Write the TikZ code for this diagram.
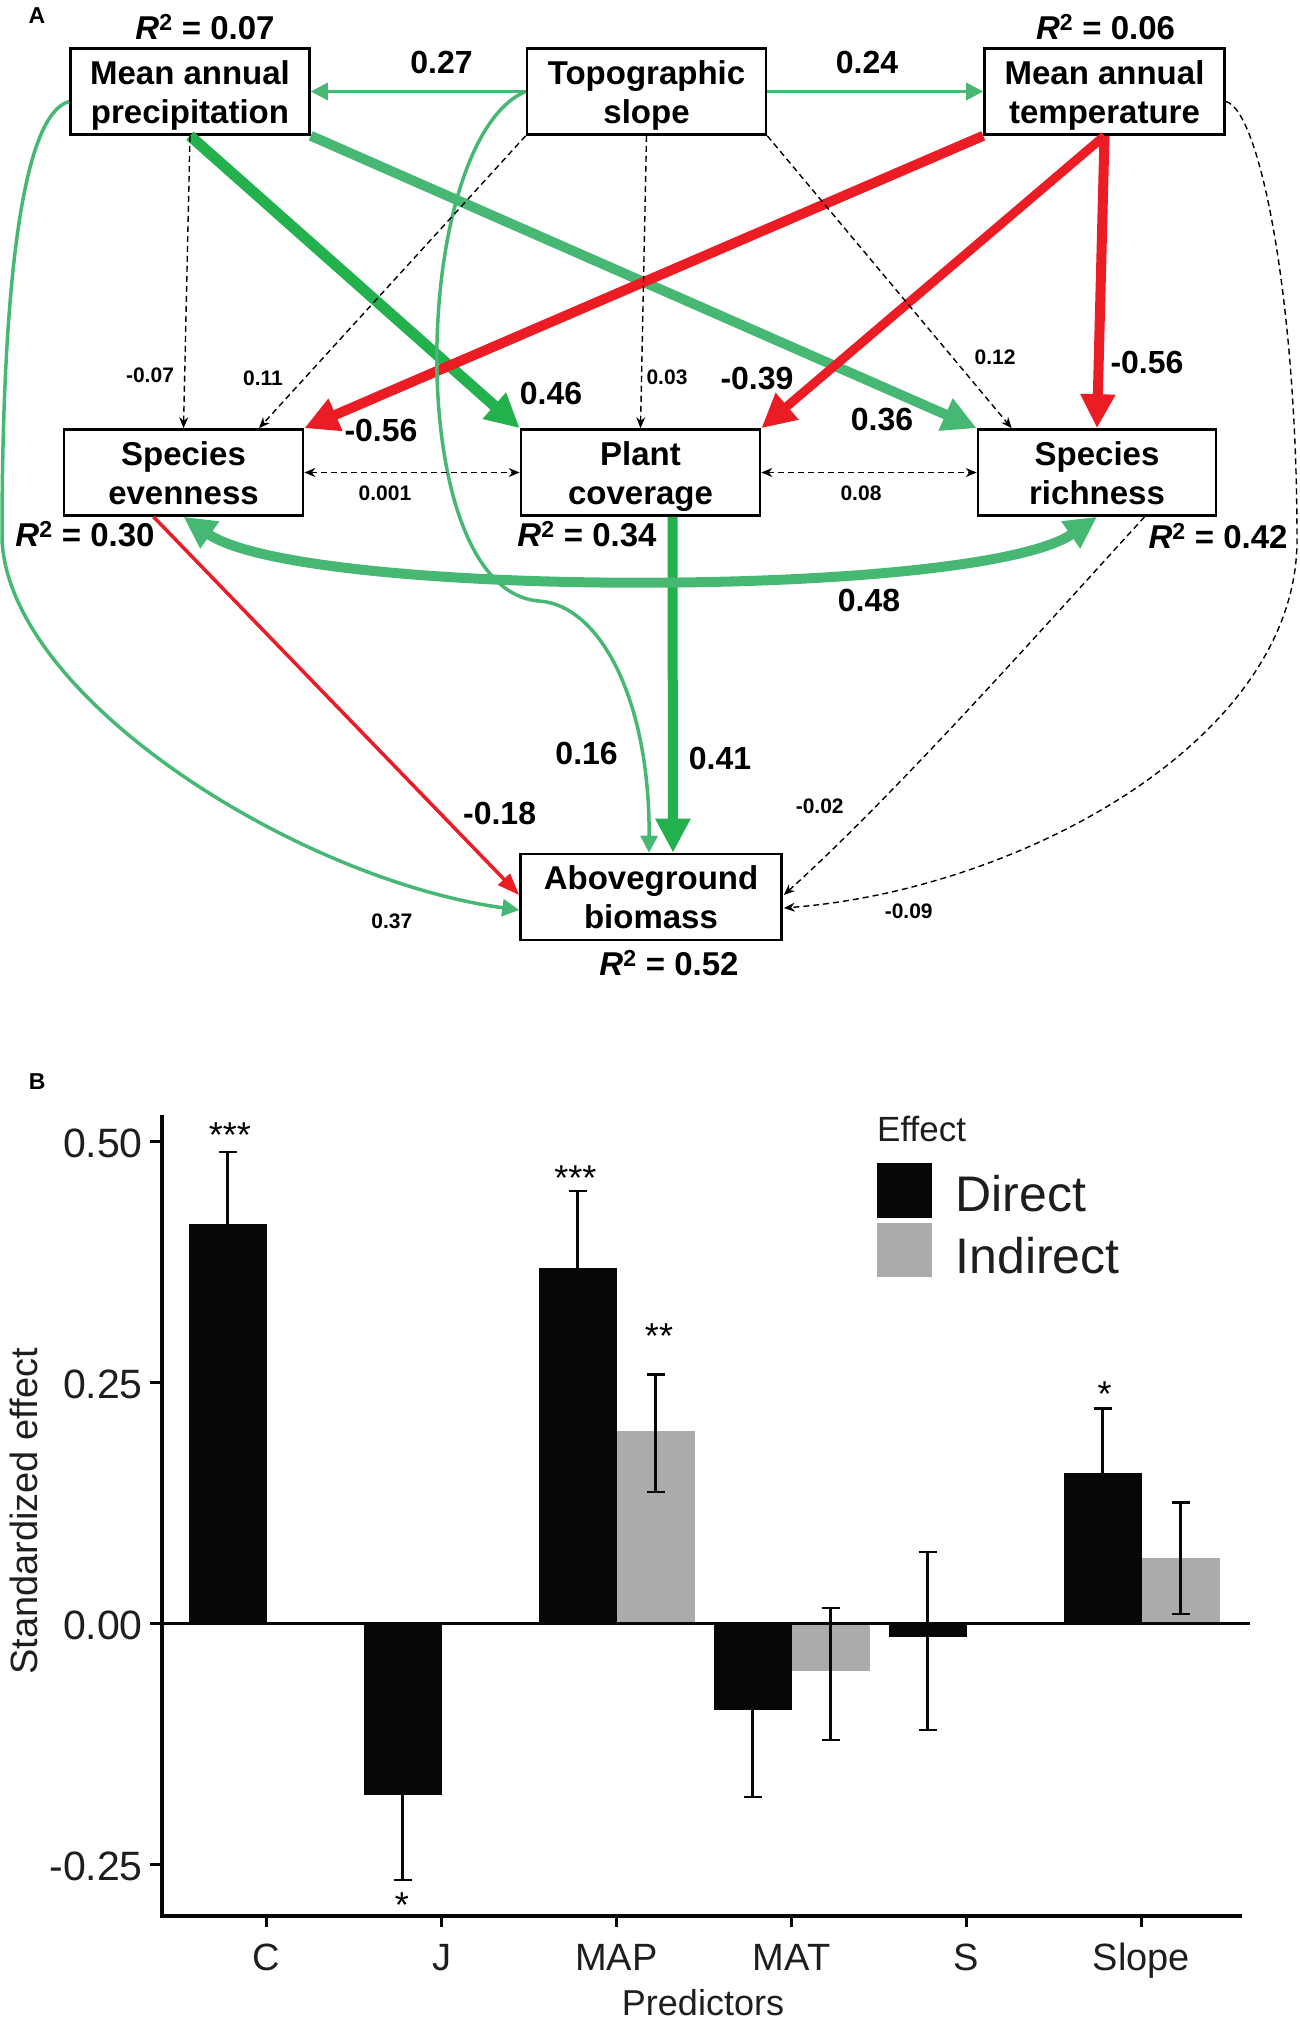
\documentclass[tikz,border=0pt]{standalone}
\usepackage{fontspec}
\setmainfont{Liberation Sans}
\usetikzlibrary{arrows.meta,calc}
\definecolor{dgreen}{RGB}{34,177,76}
\definecolor{lgreen}{RGB}{70,184,116}
\definecolor{myred}{RGB}{236,28,36}
\definecolor{bargray}{RGB}{171,171,171}
\definecolor{barblack}{RGB}{5,7,8}
\definecolor{txtgray}{RGB}{30,30,30}
\newcommand\boxstrut{\rule[-7pt]{0pt}{38pt}}
\newcommand\errbar[3]{\draw[errst] (#1,#2) -- (#1,#3) (#1-9,#2) -- (#1+9,#2) (#1-9,#3) -- (#1+9,#3);}
\begin{document}
\begin{tikzpicture}[x=1pt,y=-1pt,
  box/.style={draw, line width=2.6pt, minimum width=239pt, minimum height=86pt, inner sep=0pt, align=center, font=\fontsize{33}{39}\selectfont\bfseries},
  big/.style={font=\fontsize{32}{38}\selectfont\bfseries, inner sep=0pt},
  small/.style={font=\fontsize{21}{25}\selectfont\bfseries, inner sep=0pt},
  rsq/.style={font=\fontsize{33}{38}\selectfont\bfseries, inner sep=0pt},
  panel/.style={font=\fontsize{23}{26}\selectfont\bfseries, inner sep=0pt},
  dashline/.style={draw=black, line width=1.4pt, dash pattern=on 6pt off 4pt, -{Stealth[length=11pt,width=9pt]}},
  dashboth/.style={draw=black, line width=1.4pt, dash pattern=on 6pt off 4pt, {Stealth[length=11pt,width=9pt]}-{Stealth[length=11pt,width=9pt]}},
  thinarrow/.style={line width=3.5pt, -{Triangle[length=17pt,width=17pt]}},
  thickarrow/.style={-{Triangle[length=34pt,width=33pt]}},
  errst/.style={line width=2.4pt, draw=barblack},
  tickfont/.style={font=\fontsize{41}{46}\selectfont, text=txtgray, inner sep=0pt},
  xlab/.style={font=\fontsize{38}{44}\selectfont, text=txtgray, inner sep=0pt},
  star/.style={font=\fontsize{36}{40}\selectfont, inner sep=0pt},
]
\useasboundingbox (0,0) rectangle (1299,2019);

% ---------------- Panel A ----------------
\node[panel] (pA) at (37,16) {A};

\node[box] (MAP) at (190,91.5) {\boxstrut Mean annual\\\boxstrut precipitation};
\node[box] (TOP) at (646.5,91.5) {\boxstrut Topographic\\\boxstrut slope};
\node[box, minimum width=240pt] (MAT) at (1104.5,91.5) {\boxstrut Mean annual\\\boxstrut temperature};
\node[box] (SE) at (183.5,472.5) {\boxstrut Species\\\boxstrut evenness};
\node[box] (PC) at (640.5,472.5) {\boxstrut Plant\\\boxstrut coverage};
\node[box, minimum width=238pt] (SR) at (1097,472.5) {\boxstrut Species\\\boxstrut richness};
\node[box, minimum width=261pt] (AGB) at (651,897) {\boxstrut Aboveground\\\boxstrut biomass};

% thick paths
\draw[dgreen, line width=11pt, thickarrow] (MAP.south) -- (PC.north west);
\draw[lgreen, line width=10pt, thickarrow] (MAP.south east) -- (SR.north west);
\draw[myred, line width=10pt, thickarrow] (MAT.south west) -- (SE.north east);
\draw[myred, line width=9pt, thickarrow] (MAT.south) -- (PC.north east);
\draw[myred, line width=10pt, thickarrow] (MAT.south) -- (SR.north);
\draw[dgreen, line width=10pt, thickarrow] ($(PC.south)+(32,0)$) -- ($(AGB.north)+(22,0)$);
\draw[lgreen, line width=10pt, {Triangle[length=32pt,width=31pt]}-{Triangle[length=32pt,width=31pt]}]
  (SE.south) .. controls (302,599) and (978,599) .. (SR.south);

% thin paths
\draw[lgreen, thinarrow] (TOP.west) -- (MAP.east);
\draw[lgreen, thinarrow] (TOP.east) -- (MAT.west);
\draw[lgreen, thinarrow] (TOP.west) .. controls (410,140) and (400,590) .. (539,601)
  .. controls (600,605) and (650,700) .. ($(AGB.north)+(-2,0)$);
\draw[lgreen, thinarrow] ($(MAP.west)+(0,10)$) .. controls (20,115) and (2,300) .. (2,540)
  .. controls (10,700) and (300,880) .. ($(AGB.west)+(0,13)$);
\draw[myred, line width=3.5pt, -{Triangle[length=22pt,width=16pt]}] ($(SE.south)+(-30,0)$) -- ($(AGB.west)+(0,-2)$);

% dashed paths
\draw[dashline] (MAP.south) -- (SE.north);
\draw[dashline] (TOP.south west) -- ($(SE.north)+(75.5,0)$);
\draw[dashline] (TOP.south) -- (PC.north);
\draw[dashline] (TOP.south east) -- ($(SR.north west)+(35,0)$);
\draw[dashboth] (SE.east) -- (PC.west);
\draw[dashboth] (PC.east) -- (SR.west);
\draw[dashline] ($(SR.south)+(47.6,0)$) .. controls (1050,620) and (900,790) .. ($(AGB.east)+(1,-2)$);
\draw[dashline] ($(MAT.east)+(0,10)$) .. controls (1260,110) and (1297,300) .. (1297,540)
  .. controls (1297,740) and (1020,890) .. ($(AGB.east)+(1,11)$);

% labels
\node[big] (l027) at (441.5,62.5) {0.27};
\node[big] (l024) at (867,62.5) {0.24};
\node[small] (l007) at (150,375) {-0.07};
\node[small] (l011) at (263,378.6) {0.11};
\node[big] (l046) at (551,393) {0.46};
\node[small] (l003) at (667,377) {0.03};
\node[big] (l039) at (757,378.6) {-0.39};
\node[small] (l012) at (995,357) {0.12};
\node[big] (l056b) at (1147,362.5) {-0.56};
\node[big] (l056a) at (381,430) {-0.56};
\node[big] (l036) at (882,419.6) {0.36};
\node[small] (l0001) at (385,493) {0.001};
\node[small] (l008) at (861,493) {0.08};
\node[big] (l048) at (869,600) {0.48};
\node[big] (l016) at (586.6,753) {0.16};
\node[big] (l041) at (720,758) {0.41};
\node[big] (l018) at (499.6,813) {-0.18};
\node[small] (l002) at (819.7,806.7) {-0.02};
\node[small] (l037) at (391.8,921.7) {0.37};
\node[small] (l009) at (908.7,911.7) {-0.09};

\node[rsq] (r1) at (205,27) {\textit{R}\textsuperscript{2} = 0.07};
\node[rsq] (r2) at (1105.5,27) {\textit{R}\textsuperscript{2} = 0.06};
\node[rsq] (r3) at (85,534) {\textit{R}\textsuperscript{2} = 0.30};
\node[rsq] (r4) at (587,534) {\textit{R}\textsuperscript{2} = 0.34};
\node[rsq] (r5) at (1218,535.7) {\textit{R}\textsuperscript{2} = 0.42};
\node[rsq] (r6) at (669,963) {\textit{R}\textsuperscript{2} = 0.52};

% ---------------- Panel B ----------------
\node[panel] (pB) at (37.3,1081.7) {B};

\begin{scope}[shift={(0,1623.5)}, yscale=-964]
  \fill[barblack] (188.5,0) rectangle (266.5,0.4144);
  \fill[barblack] (363.5,0) rectangle (441.5,-0.1779);
  \fill[barblack] (538.5,0) rectangle (616.5,0.3688);
  \fill[bargray]  (616.5,0) rectangle (694.5,0.2);
  \fill[barblack] (713.5,0) rectangle (791.5,-0.0897);
  \fill[bargray]  (791.5,0) rectangle (869.5,-0.0493);
  \fill[barblack] (888.5,0) rectangle (966.5,-0.014);
  \fill[barblack] (1063.5,0) rectangle (1141.5,0.1558);
  \fill[bargray]  (1141.5,0) rectangle (1219.5,0.068);
  \draw[line width=3pt, barblack] (161.7,0) -- (1250,0);
  \errbar{227.5}{0.339}{0.4894}
  \errbar{305.5}{0}{0}
  \errbar{402.5}{-0.266}{-0.09}
  \errbar{480.5}{0}{0}
  \errbar{577.5}{0.289}{0.4487}
  \errbar{655.5}{0.1367}{0.2585}
  \errbar{752.5}{-0.1797}{0.0003}
  \errbar{830.5}{-0.1209}{0.0158}
  \errbar{927.5}{-0.1105}{0.0745}
  \errbar{1005.5}{0}{0}
  \errbar{1102.5}{0.088}{0.2232}
  \errbar{1180.5}{0.0099}{0.1257}
\end{scope}

% axes
\draw[line width=4pt, barblack] (161.7,1115) -- (161.7,1918);
\draw[line width=4.5pt, barblack] (159.7,1916) -- (1242,1916);
\foreach \yy in {1141.5,1382.5,1623.5,1864.5} \draw[line width=2.5pt, barblack] (150,\yy) -- (161.7,\yy);
\foreach \xx in {266.5,441.5,616.5,791.5,966.5,1141.5} \draw[line width=2.5pt, barblack] (\xx,1916) -- (\xx,1927);

\node[tickfont, anchor=east] (t1) at (143,1143) {0.50};
\node[tickfont, anchor=east] (t2) at (143,1384) {0.25};
\node[tickfont, anchor=east] (t3) at (143,1625) {0.00};
\node[tickfont, anchor=east] (t4) at (143,1866) {-0.25};

\node[xlab, anchor=base] (xC) at (266.5,1970) {C};
\node[xlab, anchor=base] (xJ) at (441.5,1970) {J};
\node[xlab, anchor=base] (xMAP) at (616.5,1970) {MAP};
\node[xlab, anchor=base] (xMAT) at (791.5,1970) {MAT};
\node[xlab, anchor=base] (xS) at (966.5,1970) {S};
\node[xlab, anchor=base] (xSlope) at (1141.5,1970) {Slope};
\node[font=\fontsize{36}{40}\selectfont, text=txtgray, inner sep=0pt, anchor=base] (xtitle) at (703,2015) {Predictors};
\node[font=\fontsize{38}{42}\selectfont, text=txtgray, inner sep=0pt, rotate=90] (ytitle) at (24,1511.5) {Standardized effect};

% stars
\node[star, anchor=base] (s1) at (230,1147) {***};
\node[star, anchor=base] (s2) at (575.3,1190.5) {***};
\node[star, anchor=base] (s3) at (659,1348.5) {**};
\node[star, anchor=base] (s4) at (402,1917) {*};
\node[star, anchor=base] (s5) at (1104.5,1406) {*};

% legend
\node[font=\fontsize{35}{40}\selectfont, text=txtgray, inner sep=0pt, anchor=base west] (legt) at (877,1141.7) {Effect};
\fill[barblack] (877,1163) rectangle (931.5,1217.7);
\fill[bargray] (877,1223) rectangle (931.5,1277);
\node[font=\fontsize{50}{56}\selectfont, text=txtgray, inner sep=0pt, anchor=base west] (legd) at (955.5,1211.7) {Direct};
\node[font=\fontsize{50}{56}\selectfont, text=txtgray, inner sep=0pt, anchor=base west] (legi) at (955.5,1273.3) {Indirect};
\end{tikzpicture}
\end{document}
